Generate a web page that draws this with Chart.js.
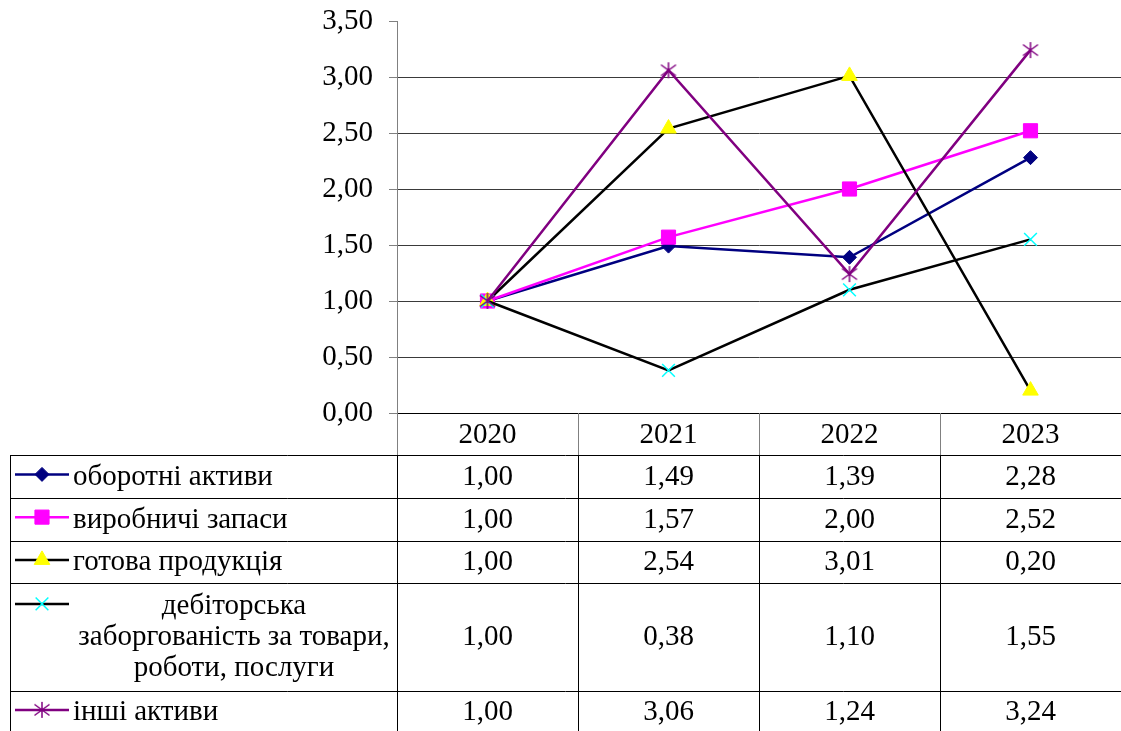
<!DOCTYPE html>
<html>
<head>
<meta charset="utf-8">
<script src="https://cdn.jsdelivr.net/npm/chart.js@4.4.0/dist/chart.umd.min.js"></script>
<style>
  html, body { margin: 0; padding: 0; background: #fff; }
  #wrap { width: 1121px; height: 731px; position: relative; }
</style>
</head>
<body>
<div id="wrap"><canvas id="myChart"></canvas></div>
<script>
// data
var years = ['2020', '2021', '2022', '2023'];
var seriesNames = [
  ['оборотні активи'],
  ['виробничі запаси'],
  ['готова продукція'],
  ['дебіторська', 'заборгованість за товари,', 'роботи, послуги'],
  ['інші активи']
];
var oborotni   = [1.00, 1.49, 1.39, 2.28];
var vyrobnychi = [1.00, 1.57, 2.00, 2.52];
var gotova     = [1.00, 2.54, 3.01, 0.20];
var debitorska = [1.00, 0.38, 1.10, 1.55];
var inshi      = [1.00, 3.06, 1.24, 3.24];
var yTicks = [0, 0.5, 1, 1.5, 2, 2.5, 3, 3.5];

var allValues = [oborotni, vyrobnychi, gotova, debitorska, inshi];

// excel-like asterisk marker (vertical bar + x)
function makeStar(color) {
  var c = document.createElement('canvas');
  c.width = 18; c.height = 18;
  var g = c.getContext('2d');
  g.strokeStyle = color;
  g.lineWidth = 1.5;
  g.beginPath();
  g.moveTo(9, 1); g.lineTo(9, 17);
  g.moveTo(1.5, 3.5); g.lineTo(16.5, 14.5);
  g.moveTo(1.5, 14.5); g.lineTo(16.5, 3.5);
  g.stroke();
  return c;
}

// looks of each series
var looks = [
  { line: '#000080', bg: '#000080', border: '#000080', style: 'rectRot', r: 7, bw: 1 },
  { line: '#FF00FF', bg: '#FF00FF', border: '#FF00FF', style: 'rect', r: 10, bw: 1 },
  { line: '#000000', bg: '#FFFF00', border: '#FFFF00', style: 'triangle', r: 9, bw: 1 },
  { line: '#000000', bg: '#00FFFF', border: '#00FFFF', style: 'crossRot', r: 9, bw: 1.5 },
  { line: '#800080', bg: '#800080', border: '#800080', style: makeStar('#800080'), r: 9, bw: 1.5 }
];

var FONT = '"Liberation Serif", "Times New Roman", serif';
var FSIZE = 29;

function fmt(v) {
  return v.toFixed(2).replace('.', ',');
}

var datasets = allValues.map(function(vals, i) {
  var lk = looks[i];
  return {
    label: seriesNames[i].join(' '),
    data: vals,
    borderColor: lk.line,
    borderWidth: 2.5,
    pointStyle: lk.style,
    pointRadius: lk.r,
    pointBackgroundColor: lk.bg,
    pointBorderColor: lk.border,
    pointBorderWidth: lk.bw,
    tension: 0,
    fill: false,
    clip: false,
    order: allValues.length - i
  };
});

// draws the data table under the plot
var tablePlugin = {
  id: 'dataTable',
  afterDraw: function(chart) {
    var ctx = chart.ctx;
    var xs = chart.scales.x;
    var area = chart.chartArea;
    var n = years.length;
    var colW = xs.width / n;
    var left = 10;
    var headTop = area.bottom;
    var headH = 42;
    var lineStep = 31;
    var cols = [];
    for (var c = 0; c <= n; c++) cols.push(Math.round(xs.left + c * colW));

    ctx.save();
    ctx.font = FSIZE + 'px ' + FONT;
    ctx.fillStyle = '#000';
    ctx.textBaseline = 'middle';

    // header
    ctx.strokeStyle = '#808080';
    ctx.lineWidth = 1;
    for (var c = 0; c < n; c++) {
      ctx.beginPath();
      ctx.moveTo(cols[c] + 0.5, headTop);
      ctx.lineTo(cols[c] + 0.5, headTop + headH);
      ctx.stroke();
    }
    ctx.textAlign = 'center';
    for (var c = 0; c < n; c++) {
      ctx.fillText(years[c], xs.getPixelForValue(c), headTop + headH / 2 + 1);
    }

    // body
    var y = headTop + headH;
    var rowTops = [];
    var rowHs = [];
    for (var i = 0; i < seriesNames.length; i++) {
      var h = 10.5 + 32.25 * seriesNames[i].length;
      rowTops.push(y);
      rowHs.push(h);
      y += h;
    }
    var bottom = y;

    ctx.strokeStyle = '#000';
    for (var i = 0; i < rowTops.length; i++) {
      var yy = Math.round(rowTops[i]) + 0.5;
      ctx.beginPath();
      ctx.moveTo(left, yy);
      ctx.lineTo(area.right, yy);
      ctx.stroke();
    }
    var vlines = [left].concat(cols.slice(0, n));
    vlines.forEach(function(x) {
      ctx.beginPath();
      ctx.moveTo(x + 0.5, headTop + headH);
      ctx.lineTo(x + 0.5, bottom);
      ctx.stroke();
    });

    var textLeft = 73;
    for (var i = 0; i < seriesNames.length; i++) {
      var lines = seriesNames[i];
      var top = rowTops[i];
      var h = rowHs[i];
      var firstY = top + (h - lines.length * lineStep) / 2 + lineStep / 2 + 1;
      // legend key
      var lk = looks[i];
      var keyY = firstY - 3;
      ctx.strokeStyle = lk.line;
      ctx.lineWidth = 2.5;
      ctx.beginPath();
      ctx.moveTo(15, keyY);
      ctx.lineTo(69, keyY);
      ctx.stroke();
      ctx.fillStyle = lk.bg;
      ctx.strokeStyle = lk.border;
      ctx.lineWidth = lk.bw;
      Chart.helpers.drawPoint(ctx, { pointStyle: lk.style, radius: lk.r, rotation: 0, borderWidth: lk.bw }, 42, keyY);

      ctx.fillStyle = '#000';
      if (lines.length === 1) {
        ctx.textAlign = 'left';
        ctx.fillText(lines[0], textLeft, firstY);
      } else {
        ctx.textAlign = 'center';
        for (var k = 0; k < lines.length; k++) {
          ctx.fillText(lines[k], (textLeft + cols[0]) / 2 - 1, firstY + k * lineStep);
        }
      }
      // values
      ctx.textAlign = 'center';
      for (var c = 0; c < n; c++) {
        ctx.fillText(fmt(allValues[i][c]), xs.getPixelForValue(c), top + h / 2 + 1);
      }
    }
    ctx.restore();
  }
};

var ctx = document.getElementById('myChart').getContext('2d');

var myChart = new Chart(ctx, {
  type: 'line',
  data: {
    labels: years,
    datasets: datasets
  },
  options: {
    responsive: true,
    maintainAspectRatio: false,
    animation: false,
    layout: { autoPadding: false, padding: { top: 21, right: 0, bottom: 318, left: 0 } },
    plugins: {
      legend: { display: false },
      tooltip: { enabled: false }
    },
    scales: {
      x: {
        offset: true,
        grid: { display: false },
        ticks: { display: false },
        border: { display: true, color: '#000', width: 1 },
        afterFit: function(s) {
          s.height = 0;
          s.paddingLeft = 0; s.paddingRight = 0;
        }
      },
      y: {
        min: yTicks[0],
        max: yTicks[yTicks.length - 1],
        afterBuildTicks: function(s) {
          s.ticks = yTicks.map(function(v) { return { value: v }; });
        },
        afterFit: function(s) {
          s.width = 397;
          s.paddingTop = 0; s.paddingBottom = 0;
        },
        grid: {
          color: function(c) {
            return c.tick && c.tick.value === yTicks[yTicks.length - 1] ? 'rgba(0,0,0,0)' : '#3a3a3a';
          },
          tickColor: '#808080',
          tickLength: 8,
          lineWidth: 1
        },
        border: { color: '#808080', width: 1 },
        ticks: {
          color: '#000',
          padding: 16,
          font: { family: FONT, size: FSIZE },
          callback: function(v) { return fmt(v); }
        }
      }
    }
  },
  plugins: [tablePlugin]
});
</script>
</body>
</html>
